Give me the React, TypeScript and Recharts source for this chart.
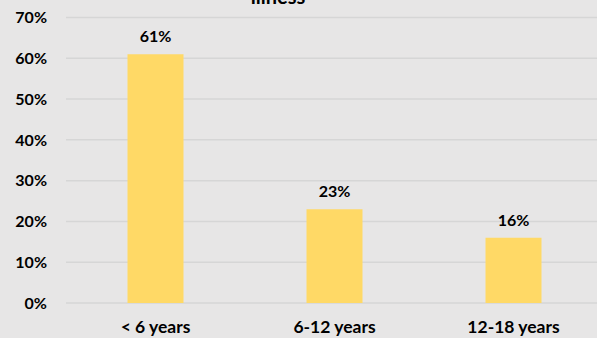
import React from 'react';
import { BarChart, Bar, XAxis, YAxis, CartesianGrid, LabelList } from 'recharts';

const categories = ['< 6 years', '6-12 years', '12-18 years'];
const values = [0.61, 0.23, 0.16];
const yTicks = [0, 0.1, 0.2, 0.3, 0.4, 0.5, 0.6, 0.7];
const titleText = 'illness';

const data = categories.map((c, i) => ({ name: c, value: values[i] }));
const FONT = 'Lato, "Noto Sans", sans-serif';
const pct = (v: number) => `${Math.round(v * 100)}%`;

export default function App() {
  return (
    <div style={{ position: 'fixed', left: 0, top: 0, width: 597, height: 338, overflow: 'hidden', background: '#e7e6e6' }}>
      <BarChart
        width={603}
        height={338}
        data={data}
        margin={{ top: 17.5, right: 0, bottom: 0, left: 0 }}
        barCategoryGap={61.5}
        style={{ fontFamily: FONT }}
      >
        <text x={278} y={4} textAnchor="middle" fontFamily={FONT} fontWeight="bold" fontSize={20} fill="#000">
          {titleText}
        </text>
        <CartesianGrid vertical={false} stroke="#d6d6d6" strokeWidth={1.5} />
        <XAxis
          dataKey="name"
          height={35}
          axisLine={false}
          tickLine={false}
          tickSize={0}
          tickMargin={18}
          interval={0}
          tick={{ fill: '#000', fontSize: 17.5, fontWeight: 'bold', fontFamily: FONT }}
        />
        <YAxis
          width={66}
          domain={[0, 0.7]}
          ticks={yTicks}
          tickFormatter={pct}
          axisLine={false}
          tickLine={false}
          tickSize={0}
          tickMargin={19}
          tick={{ fill: '#000', fontSize: 16, fontWeight: 'bold', fontFamily: FONT }}
        />
        <Bar dataKey="value" fill="#ffd966" isAnimationActive={false}>
          <LabelList
            dataKey="value"
            position="top"
            offset={12}
            formatter={(v: number) => pct(v)}
            style={{ fill: '#000', fontSize: 16, fontWeight: 'bold', fontFamily: FONT }}
          />
        </Bar>
      </BarChart>
    </div>
  );
}
